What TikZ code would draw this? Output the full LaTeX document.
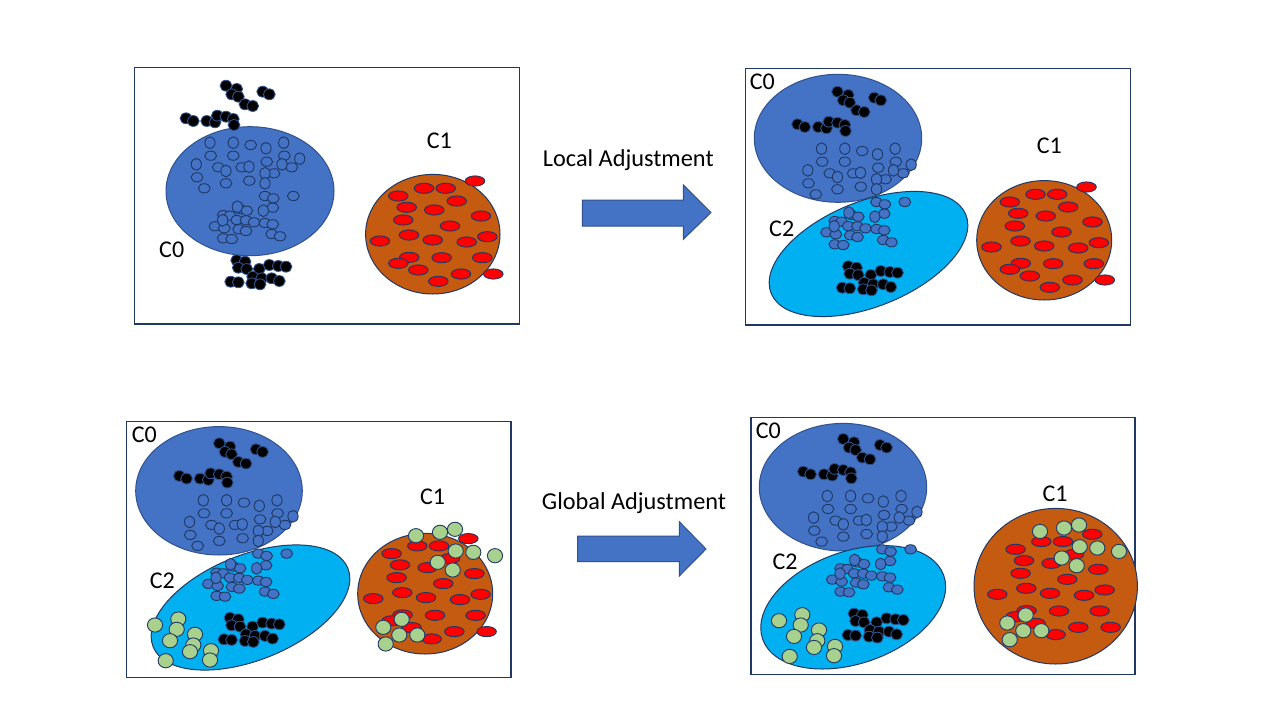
\documentclass[tikz,border=0pt]{standalone}
\usepackage{fontspec}
\setmainfont{Carlito}
\definecolor{cblue}{HTML}{4472C4}
\definecolor{cdark}{HTML}{2F528F}
\definecolor{cnavy}{HTML}{1F3864}
\definecolor{ccyan}{HTML}{00B0F0}
\definecolor{corange}{HTML}{C55A11}
\definecolor{cgreen}{HTML}{A9D18E}
\definecolor{cred}{HTML}{FF0000}
\tikzset{
  frame/.style={draw=cnavy, line width=1.3pt},
  czero/.style={fill=cblue, draw=cdark, line width=1pt},
  ctwo/.style={fill=ccyan, draw=cnavy, line width=1pt},
  cone/.style={fill=corange, draw=cnavy, line width=1pt},
  bdot/.style={fill=cblue, draw=cnavy, line width=0.9pt},
  kdot/.style={fill=black, draw=cdark, line width=0.9pt},
  rdot/.style={fill=cred, draw=cnavy, line width=0.9pt},
  gdot/.style={fill=cgreen, draw=cnavy, line width=0.9pt},
  blockarrow/.style={fill=cblue, draw=cdark, line width=1pt},
  lbl/.style={inner sep=0pt, font=\fontsize{24}{28}\selectfont},
  arrowlbl/.style={inner sep=0pt, anchor=base, font=\fontsize{24.3}{28}\selectfont},
}
\newcommand{\BlueDots}{%
  \foreach \x/\y in {250.7/145,210.7/155.7,233.3/155.7,266.7/161.7,284.3/155.7,218.3/167.3,241.7/167.3,274/173.3,291.7/167.3,197/177.3,226/183.3,249.3/180.7,204.3/188.3,265/196,273.3/198.3,293.3/196,240/209,246.7/210.7,272.7/207.7,223.3/215,230/215.7,236.7/220,246/220.3,254/222.3,265/223,272.7/224.3,215/226.3,224.3/228.3,238.7/229.3,246/231,271.7/234,280/236.3,223.3/238.3,231.7/239}
    {\draw[bdot] (\x,\y) ellipse [x radius=5.9, y radius=4.6];}
  \foreach \x/\y in {210/142.7,233.3/142.7,266/148.3,283.7/142.7,299.7/158.7,196.3/164.3,226/171,249/166.7,265/173.3,282/164.3,265/183.3,237.3/206.7,263.3/210.7,222.7/220.3}
    {\draw[bdot] (\x,\y) ellipse [x radius=5.1, y radius=5.9];}
}
\newcommand{\BlackDots}{%
  \foreach \x/\y in {226/85.7,236.7/89,231.7/94.3,238.3/96.7,245/104.3,252.7/106,262.7/91.7,269.3/94.3,186/118.3,193.3/121,206.7/121,215/122.3,217.3/115.7,226/116.7,233.3/119,234/125,
    236.7/260.3,245/261.7,238.3/267.7,246.7/269,259.3/269,269.3/265,278.3/266,286/266.7,252.7/276.7,261.7/278.3,251.7/283.3,260/284.3,271.7/278.3,279.3/281,230.7/281.7,238.3/282.3}
    {\draw[kdot] (\x,\y) ellipse [x radius=5.9, y radius=5.4];}
}
\newcommand{\RedDots}{%
  \foreach \x/\y in {424/188.3,445.7/188.3,475/181,398.3/196,456.7/201,406.7/207.3,434.3/210,403.3/220,481/216,450/226,409/235,380/241,432.7/240,466.7/242,487.3/236.7,409.3/257.3,398.3/263.3,441.7/257.7,482.3/257.7,418.3/270,461/274,438.3/281.3,493.3/274}
    {\draw[rdot] (\x,\y) ellipse [x radius=9.8, y radius=5.1];}
}
\newcommand{\GreenDotsOne}{%
  \foreach \x/\y in {416/535.7,440/532.3,455/529.3,455.7/551,473.3/552.3,495/555.7,437.7/562.3,452.7/570,401.7/619.3,383.3/627.3,399.3/635,417.3/635,385.7/644}
    {\draw[gdot] (\x,\y) ellipse [x radius=7.6, y radius=7.1];}
}
\newcommand{\GreenDotsTwo}{%
  \foreach \x/\y in {155/625,178.3/619,176.7/629.3,195/634.3,170/640.7,193.3/645,190/651.7,211/650.7,210/660,165.7/660.7}
    {\draw[gdot] (\x,\y) ellipse [x radius=7.6, y radius=7.1];}
}
\begin{document}
\begin{tikzpicture}[x=1pt,y=-1pt]
\useasboundingbox (0,0) rectangle (1280,720);
\fill[white] (0,0) rectangle (1280,720);

% ---------- panel 1 ----------
\draw[frame] (134.5,67.5) rectangle (519.5,324);
\draw[czero] (250,191.2) ellipse [x radius=84, y radius=64.5];
\draw[cone] (432.8,234.2) ellipse [x radius=67.2, y radius=59.8];
\BlueDots \BlackDots \RedDots
\node[lbl] (pac0) at (171.7,250) {C0};
\node[lbl] (pac1) at (439.3,140.7) {C1};

% ---------- panel 2 ----------
\draw[frame] (745.5,68.5) rectangle (1130.5,325);
\draw[czero] (838,138.3) ellipse [x radius=83.7, y radius=64];
\draw[ctwo, rotate around={22:(868.5,254)}] (868.5,254) ellipse [x radius=105, y radius=52.5];
\draw[cone] (1044.2,240.3) ellipse [x radius=67.5, y radius=59.7];
\begin{scope}[shift={(611.5,6)}]
  \BlueDots \BlackDots \RedDots
\end{scope}
\node[lbl] (pbc0) at (762.3,81.7) {C0};
\node[lbl] (pbc1) at (1049.3,146) {C1};
\node[lbl] (pbc2) at (781.7,228.3) {C2};

% ---------- panel 3 ----------
\draw[frame] (126.5,421.5) rectangle (511,677.7);
\draw[czero] (219,490.8) ellipse [x radius=83.3, y radius=64.2];
\draw[ctwo, rotate around={22:(250.5,607.5)}] (250.5,607.5) ellipse [x radius=105, y radius=52.5];
\draw[cone] (425.2,593.7) ellipse [x radius=67.5, y radius=60.3];
\begin{scope}[shift={(-6.7,357.6)}]
  \BlueDots \BlackDots \RedDots
\end{scope}
\GreenDotsOne \GreenDotsTwo
\node[lbl] (pcc0) at (144.3,435) {C0};
\node[lbl] (pcc1) at (432.6,497) {C1};
\node[lbl] (pcc2) at (162.3,580.7) {C2};

% ---------- panel 4 ----------
\draw[frame] (751,417.5) rectangle (1135,674.5);
\draw[czero] (843,487.2) ellipse [x radius=83.7, y radius=63.8];
\draw[ctwo, rotate around={19.4:(853.2,607.3)}] (853.2,607.3) ellipse [x radius=96, y radius=56];
\draw[cone] (1055.7,586.2) ellipse [x radius=81.7, y radius=77.8];
\begin{scope}[shift={(617.3,353.3)}]
  \BlueDots \BlackDots \RedDots
\end{scope}
\begin{scope}[shift={(624,-4.3)}]
  \GreenDotsOne \GreenDotsTwo
\end{scope}
\node[lbl] (pdc0) at (768.3,431) {C0};
\node[lbl] (pdc1) at (1055,494) {C1};
\node[lbl] (pdc2) at (785,561.7) {C2};

% ---------- arrows ----------
\draw[blockarrow] (582.3,200) -- (683.3,200) -- (683.3,185) -- (711,212.5) -- (683.3,239.3) -- (683.3,226) -- (582.3,226) -- cycle;
\node[arrowlbl] (locallbl) at (628.3,166.7) {Local Adjustment};
\draw[blockarrow] (577.7,536) -- (679.3,536) -- (679.3,521.7) -- (706,549) -- (679.3,576) -- (679.3,561.7) -- (577.7,561.7) -- cycle;
\node[arrowlbl] (globallbl) at (634,509.3) {Global Adjustment};
\end{tikzpicture}
\end{document}
